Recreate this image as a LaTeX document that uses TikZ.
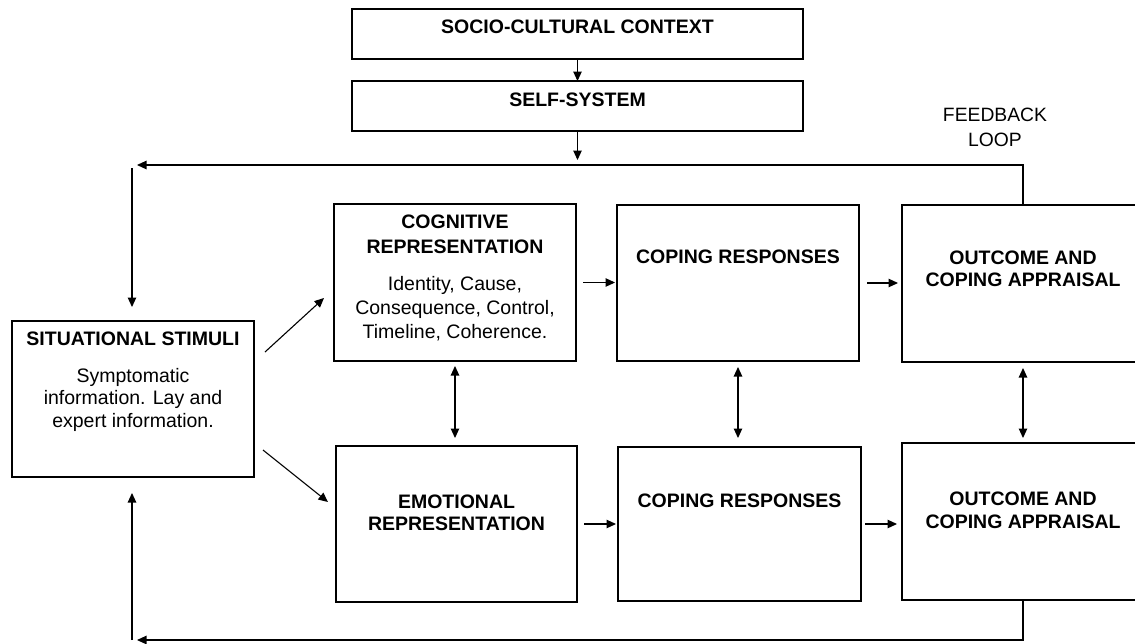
\documentclass[tikz,border=0pt]{standalone}
\usepackage{fontspec}
\setmainfont{Liberation Sans}
\usetikzlibrary{arrows.meta,calc}
\begin{document}
\begin{tikzpicture}[x=1pt,y=-1pt,
  box/.style={draw=black,line width=1.1pt,inner sep=0pt,outer sep=0pt},
  bt/.style={font=\fontsize{19.5}{22}\selectfont\bfseries,align=center,inner sep=0pt},
  rt/.style={font=\fontsize{19.5}{22.5}\selectfont,align=center,inner sep=0pt},
  arr/.style={line width=1.1pt,-{Triangle[length=9.5pt,width=8.5pt]}},
  darr/.style={line width=1.1pt,{Triangle[length=9.5pt,width=8.5pt]}-{Triangle[length=9.5pt,width=8.5pt]}}
]
\useasboundingbox (0,0) rectangle (1135,643);
\clip (0,0) rectangle (1135,643);

% boxes
\node[box,minimum width=451pt,minimum height=50pt] (socio) at (577.5,34) {};
\node[box,minimum width=451pt,minimum height=50pt] (self) at (577.5,106) {};
\node[box,minimum width=242pt,minimum height=156pt] (sit) at (133,399) {};
\node[box,minimum width=242pt,minimum height=157pt] (cog) at (455,282.5) {};
\node[box,minimum width=242pt,minimum height=156pt] (cop1) at (738,283) {};
\node[box,minimum width=242pt,minimum height=157pt] (out1) at (1023,283.5) {};
\node[box,minimum width=241pt,minimum height=156pt] (emo) at (456.5,524) {};
\node[box,minimum width=243pt,minimum height=154pt] (cop2) at (739.5,524) {};
\node[box,minimum width=242pt,minimum height=157pt] (out2) at (1023,521.5) {};

% texts
\node[bt] (sociot) at (577.5,27) {SOCIO-CULTURAL CONTEXT};
\node[bt] (selft) at (577.5,100) {SELF-SYSTEM};
\node[bt] (sitt) at (133,339) {SITUATIONAL STIMULI};
\node[rt] (sitb) at (133,399.5) {Symptomatic\\information. Lay and\\expert information.};
\node[bt,font=\fontsize{19.5}{25}\selectfont\bfseries] (cogt) at (455,234.5) {COGNITIVE\\REPRESENTATION};
\node[rt,font=\fontsize{19.5}{24}\selectfont] (cogb) at (455,309) {Identity, Cause,\\Consequence, Control,\\Timeline, Coherence.};
\node[bt] (cop1t) at (738,257) {COPING RESPONSES};
\node[bt] (out1t) at (1023,269) {OUTCOME AND\\COPING APPRAISAL};
\node[bt] (emot) at (456.5,513) {EMOTIONAL\\REPRESENTATION};
\node[bt] (cop2t) at (739.5,501) {COPING RESPONSES};
\node[bt,font=\fontsize{19.5}{23}\selectfont\bfseries] (out2t) at (1023,510.5) {OUTCOME AND\\COPING APPRAISAL};
\node[rt,font=\fontsize{19.3}{25}\selectfont] (fb) at (995,127.5) {FEEDBACK\\LOOP};

% coordinates for free ends
\coordinate (selfend) at (577.5,160);
\coordinate (fbtop) at (137,165);
\coordinate (ltop) at (132,168);
\coordinate (fbbot) at (137,640);
\coordinate (lbot) at (132,640);
\coordinate (d1s) at (265,352);
\coordinate (d1e) at (324,298);
\coordinate (d2s) at (263,450);
\coordinate (d2e) at (328,502);

% connectors
\draw[arr] (socio) -- (self);
\draw[arr] (self.south) -- (selfend);
\draw[arr] (out1.north) |- (fbtop);
\draw[arr,shorten >=14pt] (ltop) -- (ltop |- sit.north);
\draw[arr] (out2.south) |- (fbbot);
\draw[arr,shorten >=16pt] (lbot) -- (lbot |- sit.south);
\draw[arr] (d1s) -- (d1e);
\draw[arr] (d2s) -- (d2e);
\draw[arr,shorten <=7pt,shorten >=2pt] (cog.east) -- (cog.east -| cop1.west);
\draw[arr,shorten <=8pt,shorten >=4pt] (cop1.east) -- (cop1.east -| out1.west);
\draw[arr,shorten <=7pt,shorten >=2pt] (emo.east) -- (emo.east -| cop2.west);
\draw[arr,shorten <=4pt,shorten >=5pt] (cop2.east) -- (cop2.east -| out2.west);
\draw[darr,shorten <=5pt,shorten >=8pt] (cog.south) -- (cog.south |- emo.north);
\draw[darr,shorten <=6pt,shorten >=9pt] (cop1.south) -- (cop1.south |- cop2.north);
\draw[darr,shorten <=6pt,shorten >=5pt] (out1.south) -- (out2.north);
\end{tikzpicture}
\end{document}
